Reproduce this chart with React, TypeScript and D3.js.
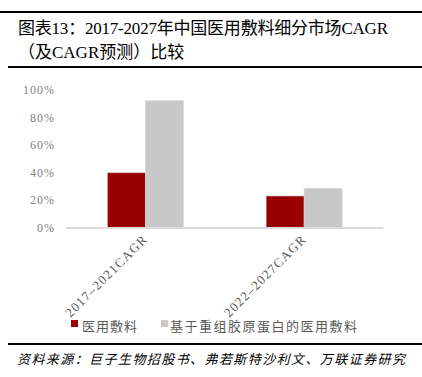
import React from "react";
import * as d3 from "d3";

const categories = ["2017–2021CAGR", "2022–2027CAGR"];
const seriesNames = ["医用敷料", "基于重组胶原蛋白的医用敷料"];
const seriesA = [0.4, 0.232];
const seriesB = [0.922, 0.288];
const yTicks = [0, 0.2, 0.4, 0.6, 0.8, 1.0];
const colors = ["#990000", "#c8c8c8"];
const titleLines = ["图表13：2017-2027年中国医用敷料细分市场CAGR", "（及CAGR预测）比较"];
const sourceText = "资料来源：巨子生物招股书、弗若斯特沙利文、万联证券研究";

const W = 422, H = 377;
const FONT = "'Liberation Serif', 'Noto Sans CJK SC', serif";

export default function App() {
  const x0 = d3.scaleBand<string>().domain(categories).range([66, 383.5]).paddingInner(0).paddingOuter(0);
  const x1 = d3.scaleBand<number>().domain([0, 1]).range([0, 76]);
  const y = d3.scaleLinear().domain([0, 1]).range([228, 90]);
  const fmt = d3.format(".0%");
  const series = [seriesA, seriesB];
  return (
    <svg width={W} height={H} style={{ position: "absolute", left: 0, top: 0, background: "#fff" }}>
      <line x1={0} x2={W} y1={12} y2={12} stroke="#000" strokeWidth={2} />
      <text x={18} y={34} fontFamily={FONT} fontSize={17} fill="#000" textLength={370} lengthAdjust="spacing">{titleLines[0]}</text>
      <text x={18} y={58} fontFamily={FONT} fontSize={17} fill="#000">{titleLines[1]}</text>
      <line x1={8} x2={W} y1={67} y2={67} stroke="#000" strokeWidth={2} />
      {yTicks.map((t) => (
        <text key={t} x={55} y={y(t) + 4} textAnchor="end" fontFamily={FONT} fontSize={12} letterSpacing={1} fill="#7f7f7f">{fmt(t)}</text>
      ))}
      {categories.map((c, i) => {
        const gx = x0(c)! + x0.bandwidth() / 2 - 38;
        return (
          <g key={c}>
            {series.map((s, j) => (
              <rect key={j} x={gx + x1(j)!} y={y(s[i])} width={x1.bandwidth()} height={y(0) - y(s[i])} fill={colors[j]} stroke={j === 0 ? "#c9c9c9" : "#d4d4d4"} strokeWidth={0.6} />
            ))}
            <text transform={`translate(${x0(c)! + x0.bandwidth() / 2 + 3},${240}) rotate(-45)`} textAnchor="end" fontFamily={FONT} fontSize={13} letterSpacing={1.2} fill="#595959">{c}</text>
          </g>
        );
      })}
      <line x1={66} x2={383.5} y1={228} y2={228} stroke="#d9d9d9" strokeWidth={2} />
      <rect x={71} y={320} width={7} height={7} fill={colors[0]} />
      <text x={82} y={331} fontFamily={FONT} fontSize={13} letterSpacing={1} fill="#595959">{seriesNames[0]}</text>
      <rect x={161} y={320} width={7} height={7} fill={colors[1]} />
      <text x={170} y={331} fontFamily={FONT} fontSize={13} letterSpacing={1.5} fill="#595959">{seriesNames[1]}</text>
      <line x1={8} x2={W} y1={344} y2={344} stroke="#000" strokeWidth={2} />
      <text x={17} y={364} fontFamily={FONT} fontSize={13} fontStyle="italic" fill="#000" textLength={388} lengthAdjust="spacing">{sourceText}</text>
    </svg>
  );
}
